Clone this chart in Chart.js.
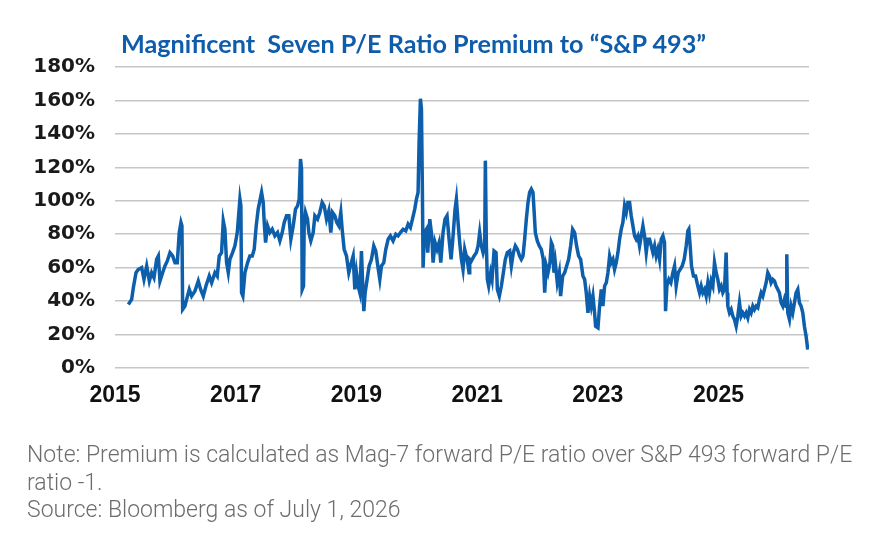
<!DOCTYPE html>
<html>
<head>
<meta charset="utf-8">
<script src="https://cdn.jsdelivr.net/npm/chart.js@4"></script>
<style>
  html, body { margin: 0; padding: 0; background: #ffffff; }
  #wrap { position: relative; width: 884px; height: 542px; overflow: hidden; }
  #title { position: absolute; left: 121px; top: 28px; font-family: Lato, "Open Sans", sans-serif; font-weight: 700; font-size: 25.2px; line-height: 30px; color: #0f5cab; white-space: pre; }
  #note { position: absolute; left: 27px; top: 441px; width: 857px; font-family: Roboto, "Noto Sans", sans-serif; font-weight: 300; font-size: 23px; line-height: 27.5px; color: #6d6d6d; white-space: nowrap; }
  canvas { position: absolute; left: 0; top: 0; }
</style>
</head>
<body>
<div id="wrap">
  <canvas id="c" width="884" height="542"></canvas>
  <div id="title">Magnificent  Seven P/E Ratio Premium to “S&amp;P 493”</div>
  <div id="note">Note: Premium is calculated as Mag-7 forward P/E ratio over S&amp;P 493 forward P/E<br>ratio -1.<br>Source: Bloomberg as of July 1, 2026</div>
</div>
<script>
// ---- data (decimal year, premium %) ----
const years = [
  2015.221, 2015.276, 2015.304, 2015.348, 2015.387, 2015.442, 2015.480, 2015.525, 2015.569, 2015.607,
  2015.646, 2015.690, 2015.718, 2015.745, 2015.789, 2015.828, 2015.867, 2015.911, 2015.955, 2015.994,
  2016.032, 2016.065, 2016.093, 2016.109, 2016.121, 2016.159, 2016.187, 2016.231, 2016.270, 2016.325,
  2016.380, 2016.419, 2016.463, 2016.507, 2016.562, 2016.601, 2016.656, 2016.694, 2016.728, 2016.766,
  2016.794, 2016.821, 2016.849, 2016.877, 2016.904, 2016.948, 2016.987,
  2017.026, 2017.070, 2017.086, 2017.097, 2017.119, 2017.153, 2017.197, 2017.235, 2017.274, 2017.307,
  2017.340, 2017.373, 2017.406, 2017.429, 2017.456, 2017.473, 2017.495, 2017.528, 2017.566, 2017.605,
  2017.649, 2017.693, 2017.732, 2017.771, 2017.804, 2017.842, 2017.881, 2017.914, 2017.953, 2017.991,
  2018.025, 2018.052, 2018.074, 2018.091, 2018.102, 2018.124, 2018.135, 2018.157, 2018.190, 2018.212,
  2018.245, 2018.284, 2018.312, 2018.356, 2018.394, 2018.433, 2018.466, 2018.505, 2018.543, 2018.576,
  2018.604, 2018.643, 2018.676, 2018.709, 2018.742, 2018.764, 2018.797, 2018.836, 2018.874, 2018.908,
  2018.946, 2018.974,
  2019.001, 2019.029, 2019.057, 2019.084, 2019.101, 2019.123, 2019.145, 2019.178, 2019.211, 2019.250,
  2019.288, 2019.321, 2019.355, 2019.388, 2019.415, 2019.454, 2019.487, 2019.526, 2019.564, 2019.608,
  2019.653, 2019.691, 2019.730, 2019.774, 2019.818, 2019.857, 2019.895, 2019.929, 2019.967, 2019.995,
  2020.022, 2020.039, 2020.061, 2020.078, 2020.094, 2020.105, 2020.127, 2020.160, 2020.182, 2020.216,
  2020.249, 2020.271, 2020.304, 2020.337, 2020.370, 2020.398, 2020.436, 2020.469, 2020.502, 2020.536,
  2020.569, 2020.602, 2020.635, 2020.657, 2020.685, 2020.712, 2020.740, 2020.767, 2020.795, 2020.834,
  2020.867, 2020.878, 2020.905, 2020.950, 2020.988,
  2021.016, 2021.043, 2021.071, 2021.099, 2021.126, 2021.137, 2021.154, 2021.170, 2021.192, 2021.225,
  2021.248, 2021.281, 2021.314, 2021.336, 2021.369, 2021.402, 2021.435, 2021.468, 2021.501, 2021.540,
  2021.568, 2021.601, 2021.634, 2021.667, 2021.706, 2021.733, 2021.761, 2021.788, 2021.816, 2021.844,
  2021.871, 2021.899, 2021.926, 2021.943, 2021.965, 2021.998,
  2022.031, 2022.064, 2022.097, 2022.120, 2022.147, 2022.175, 2022.208, 2022.230, 2022.252, 2022.274,
  2022.296, 2022.329, 2022.362, 2022.384, 2022.418, 2022.451, 2022.484, 2022.517, 2022.550, 2022.583,
  2022.616, 2022.649, 2022.682, 2022.716, 2022.754, 2022.782, 2022.809, 2022.837, 2022.865, 2022.892,
  2022.920, 2022.947, 2022.964,
  2023.003, 2023.030, 2023.058, 2023.085, 2023.113, 2023.141, 2023.168, 2023.196, 2023.223, 2023.251,
  2023.278, 2023.306, 2023.334, 2023.361, 2023.389, 2023.416, 2023.444, 2023.472, 2023.499, 2023.527,
  2023.554, 2023.582, 2023.610, 2023.637, 2023.665, 2023.692, 2023.720, 2023.748, 2023.775, 2023.803,
  2023.830, 2023.858, 2023.886, 2023.913, 2023.941, 2023.968, 2023.996,
  2024.024, 2024.051, 2024.079, 2024.106, 2024.123, 2024.145, 2024.178, 2024.211, 2024.244, 2024.272,
  2024.299, 2024.333, 2024.366, 2024.399, 2024.432, 2024.465, 2024.493, 2024.509, 2024.531, 2024.553,
  2024.586, 2024.620, 2024.658, 2024.686, 2024.713, 2024.741, 2024.769, 2024.796, 2024.824, 2024.851,
  2024.879, 2024.907, 2024.934, 2024.962, 2024.989,
  2025.017, 2025.045, 2025.072, 2025.100, 2025.127, 2025.144, 2025.155, 2025.182, 2025.210, 2025.238,
  2025.265, 2025.293, 2025.320, 2025.348, 2025.376, 2025.403, 2025.431, 2025.458, 2025.486, 2025.514,
  2025.541, 2025.569, 2025.596, 2025.624, 2025.652, 2025.679, 2025.707, 2025.734, 2025.762, 2025.790,
  2025.817, 2025.845, 2025.872, 2025.900, 2025.928, 2025.955, 2025.983,
  2026.010, 2026.038, 2026.066, 2026.093, 2026.121, 2026.132, 2026.148, 2026.176, 2026.203, 2026.231,
  2026.259, 2026.286, 2026.314, 2026.341, 2026.369, 2026.397, 2026.424, 2026.452, 2026.479
];
const premium = [
  38, 41, 48, 57, 59, 60, 53, 61, 52, 57,
  54, 65, 67, 52, 57, 61, 64, 69, 67, 63,
  63, 81, 87, 85, 35, 37, 41, 47, 43, 46,
  52, 47, 43, 49, 55, 51, 57, 55, 67, 69,
  88, 83, 63, 57, 65, 69, 73,
  81, 101, 97, 45, 43, 57, 63, 67, 67, 71,
  85, 95, 101, 105, 99, 87, 75, 85, 81, 83,
  79, 81, 76, 81, 87, 91, 91, 77, 85, 95,
  97, 101, 125, 119, 47, 49, 85, 93, 89, 81,
  76, 81, 91, 89, 93, 99, 97, 89, 94, 81,
  93, 91, 87, 85, 93, 83, 71, 67, 57, 62,
  67, 47,
  57, 49, 45, 70, 53, 34, 45, 53, 61, 65,
  73, 70, 61, 53, 61, 63, 71, 77, 79, 76,
  80, 79, 81, 83, 82, 86, 84, 89, 95, 101,
  105, 135, 161, 155, 105, 60, 81, 83, 69, 89,
  79, 63, 75, 71, 75, 63, 81, 89, 91, 77,
  65, 79, 95, 101, 87, 75, 65, 59, 71, 65,
  57, 65, 64, 67, 69,
  73, 81, 73, 69, 73, 124, 73, 53, 49, 57,
  53, 70, 69, 47, 43, 49, 57, 65, 69, 70,
  61, 69, 73, 71, 67, 65, 67, 77, 89, 99,
  105, 107, 105, 95, 81, 76,
  73, 71, 65, 45, 61, 57, 63, 75, 73, 57,
  63, 51, 57, 43, 55, 57, 61, 65, 73, 83,
  81, 73, 67, 65, 55, 53, 45, 33, 43, 37,
  43, 33, 25,
  24, 37, 47, 37, 49, 51, 57, 67, 63, 65,
  59, 63, 69, 77, 83, 87, 97, 93, 99, 99,
  91, 85, 79, 77, 79, 73, 79, 85, 79, 69,
  77, 77, 73, 69, 73, 67, 71,
  65, 77, 79, 75, 34, 49, 53, 51, 57, 61,
  49, 57, 59, 61, 65, 73, 82, 83, 73, 61,
  55, 55, 49, 45, 49, 45, 47, 43, 51, 45,
  52, 49, 63, 57, 53,
  47, 49, 45, 47, 69, 45, 37, 33, 35, 31,
  29, 25, 31, 39, 31, 33, 31, 33, 30, 35,
  33, 37, 35, 37, 36, 41, 45, 43, 47, 51,
  57, 55, 51, 53, 52, 49, 47,
  45, 39, 37, 41, 37, 68, 33, 29, 37, 33,
  39, 45, 47, 39, 37, 33, 25, 19, 11
];
const xTickYears = [2015, 2017, 2019, 2021, 2023, 2025];
const yTickValues = [0, 20, 40, 60, 80, 100, 120, 140, 160, 180];

const points = years.map((yr, i) => ({ x: yr, y: premium[i] }));

new Chart(document.getElementById('c'), {
  type: 'line',
  data: {
    datasets: [{
      label: 'Premium',
      data: points,
      borderColor: '#0d5eab',
      borderWidth: 3.5,
      pointRadius: 0,
      tension: 0,
      fill: false
    }]
  },
  options: {
    responsive: false,
    devicePixelRatio: 1,
    animation: false,
    layout: { padding: { left: 0, right: 75, top: 67, bottom: 134 } },
    plugins: { legend: { display: false }, tooltip: { enabled: false }, title: { display: false } },
    scales: {
      x: {
        type: 'linear',
        min: 2015,
        max: 2026.5,
        grid: { display: false, drawTicks: false },
        border: { display: false },
        afterBuildTicks: s => { s.ticks = xTickYears.map(v => ({ value: v })); },
        afterFit: s => { s.height = 40; },
        ticks: {
          autoSkip: false,
          maxRotation: 0,
          padding: 14,
          color: '#111111',
          font: { family: "'Liberation Sans', Arial, sans-serif", weight: 'bold', size: 23 },
          callback: v => String(v)
        }
      },
      y: {
        min: 0,
        max: 180,
        afterBuildTicks: s => { s.ticks = yTickValues.map(v => ({ value: v })); },
        afterFit: s => { s.width = 115; },
        grid: { color: '#c6c6c6', lineWidth: 1.5, drawTicks: false },
        border: { display: false },
        ticks: {
          padding: 20,
          color: '#1a1a1a',
          font: { family: "'DejaVu Sans', sans-serif", weight: 'bold', size: 20 },
          callback: v => v + '%'
        }
      }
    }
  }
});
</script>
</body>
</html>
